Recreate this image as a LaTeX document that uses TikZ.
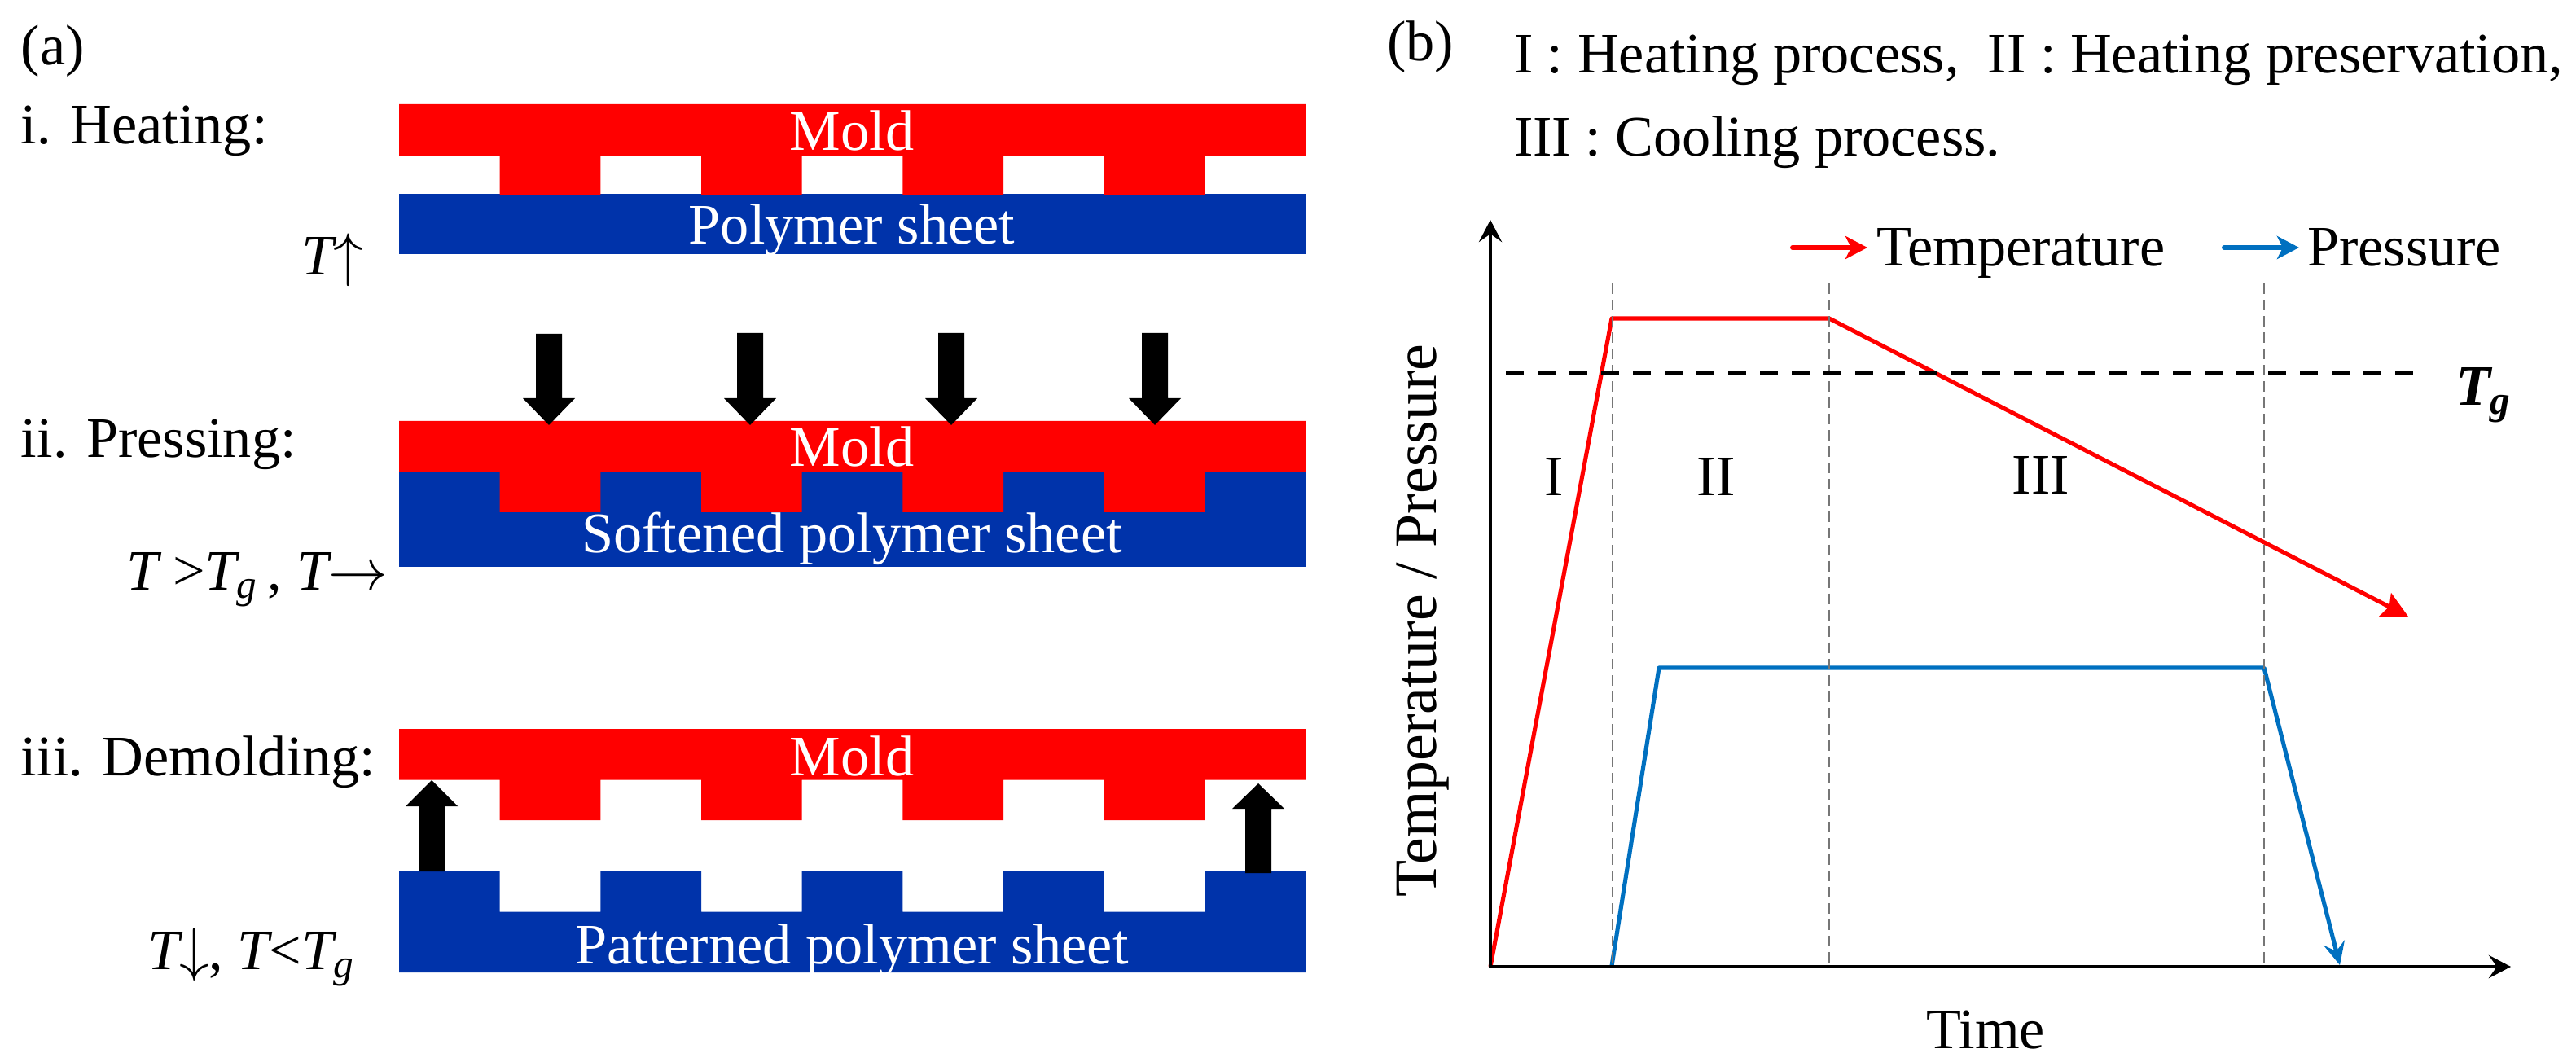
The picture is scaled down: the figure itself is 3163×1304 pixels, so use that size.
\documentclass[tikz,border=0pt]{standalone}
\usepackage{fontspec}
\setmainfont{Liberation Serif}
\usetikzlibrary{arrows.meta}
\definecolor{moldred}{RGB}{255,0,0}
\definecolor{polyblue}{RGB}{0,51,170}
\definecolor{presblue}{RGB}{0,112,192}
\definecolor{dashgray}{RGB}{118,118,118}
\newcommand{\blkarrow}[4]{%
  \fill[black] (#1-16,#2) -- (#1+16,#2) -- (#1+16,#3) -- (#1+32,#3) -- (#1,#4) -- (#1-32,#3) -- (#1-16,#3) -- cycle;}
\begin{document}
\begin{tikzpicture}[x=0.1mm,y=-0.1mm,
  lbl/.style={inner sep=0pt, outer sep=0pt, font=\fontsize{20pt}{24pt}\selectfont},
  wlbl/.style={lbl, text=white},
  tcurve/.style={draw=moldred, line width=1.45pt, line join=round},
  pcurve/.style={draw=presblue, line width=1.45pt, line join=round},
  vdash/.style={draw=dashgray, line width=0.7pt, dash pattern=on 3.7pt off 2pt},
  tgdash/.style={draw=black, line width=1.45pt, dash pattern=on 6.3pt off 4.8pt},
  axisline/.style={draw=black, line width=1.3pt, line join=miter},
  legarrow/.style={line width=1.7pt, line cap=round, -{Stealth[length=7.7pt, width=8pt, inset=2pt]}}
]
\useasboundingbox (0,0) rectangle (3163,1304);

% ---------------- panel (a) ----------------
\node[lbl, anchor=base west] (la) at (26,80) {(a)};
\node[lbl, anchor=base west] (li) at (26,177) {i. Heating:};
\node[lbl, anchor=base west] (lii) at (26,562) {ii. Pressing:};
\node[lbl, anchor=base west] (liii) at (26,952) {iii. Demolding:};

\node[lbl, anchor=base east] (ci) at (446,338) {{\itshape T}$\uparrow$};
\node[lbl, anchor=base east] (cii) at (476,724) {{\itshape T} >{\itshape T}\textsubscript{\itshape g}\,, {\itshape T}$\rightarrow$};
\node[lbl, anchor=base east] (ciii) at (436,1190) {{\itshape T}$\downarrow$, {\itshape T}<{\itshape T}\textsubscript{\itshape g}};

% i. heating
\fill[polyblue] (490,238) rectangle (1603,312);
\fill[moldred] (490,128) rectangle (1603,191.5)
  foreach \k in {0,...,3} { ({490+(2*\k+1)*123.67},191) rectangle ({490+(2*\k+2)*123.67},239) };
\node[wlbl, anchor=base] (m1) at (1046,185) {Mold};
\node[wlbl, anchor=base] (p1) at (1046,300) {Polymer sheet};

% ii. pressing
\fill[polyblue] (490,579) rectangle (1603,696);
\fill[moldred] (490,517) rectangle (1603,579.5)
  foreach \k in {0,...,3} { ({490+(2*\k+1)*123.67},579) rectangle ({490+(2*\k+2)*123.67},629) };
\node[wlbl, anchor=base] (m2) at (1046,573) {Mold};
\node[wlbl, anchor=base] (p2) at (1046,678) {Softened polymer sheet};
\blkarrow{674}{410}{489}{522}
\blkarrow{921}{409}{489}{522}
\blkarrow{1168}{409}{489}{522}
\blkarrow{1418}{409}{489}{522}

% iii. demolding
\fill[moldred] (490,895) rectangle (1603,957.5)
  foreach \k in {0,...,3} { ({490+(2*\k+1)*123.67},957) rectangle ({490+(2*\k+2)*123.67},1007) };
\fill[polyblue] (490,1119.5) rectangle (1603,1194)
  foreach \k in {0,...,4} { ({490+(2*\k)*123.67},1070) rectangle ({490+(2*\k+1)*123.67},1120) };
\node[wlbl, anchor=base] (m3) at (1046,952) {Mold};
\node[wlbl, anchor=base] (p3) at (1046,1183) {Patterned polymer sheet};
\blkarrow{530}{1070}{990}{958}
\blkarrow{1545}{1072}{993}{962}

% ---------------- panel (b) ----------------
\node[lbl, anchor=base west] (lb) at (1703,75) {(b)};
\node[lbl, anchor=base west] (t1) at (1859,90) {I : Heating process,~ II : Heating preservation,};
\node[lbl, anchor=base west] (t2) at (1859,192) {III : Cooling process.};

\coordinate (O) at (1830,1187);
\coordinate (Ytip) at (1830,270);
\coordinate (Xtip) at (3083,1187);
\coordinate (TA) at (1979,391);
\coordinate (TB) at (2246,391);
\coordinate (TC) at (2957,757);
\coordinate (PA) at (1979,1186);
\coordinate (PB) at (2037,820);
\coordinate (PC) at (2780,820);
\coordinate (PD) at (2873,1185);
\coordinate (V1t) at (1980,348); \coordinate (V1b) at (1980,1187);
\coordinate (V2t) at (2246,348); \coordinate (V2b) at (2246,1187);
\coordinate (V3t) at (2780,348); \coordinate (V3b) at (2780,1187);
\coordinate (G1) at (1849,458); \coordinate (G2) at (2974,458);

% curves
\draw[tcurve, -{Stealth[length=9pt, width=9pt, inset=1.5pt]}] (O) -- (TA) -- (TB) -- (TC);
\draw[pcurve, -{Stealth[length=8pt, width=7.5pt, inset=3pt]}] (PA) -- (PB) -- (PC) -- (PD);

% dashed lines
\draw[vdash] (V1t) -- (V1b);
\draw[vdash] (V2t) -- (V2b);
\draw[vdash] (V3t) -- (V3b);
\draw[tgdash] (G1) -- (G2);

% axes
\draw[axisline, {Stealth[length=7.7pt, width=8pt, inset=2.8pt]}-{Stealth[length=7.7pt, width=8pt, inset=2.8pt]}] (Ytip) -- (O) -- (Xtip);

% legend
\node[lbl, anchor=base west] (legT) at (2304,327) {Temperature};
\node[lbl, anchor=base west] (legP) at (2833,327) {Pressure};
\coordinate (LT1) at (2201,304); \coordinate (LT2) at (2293,304);
\coordinate (LP1) at (2731,304); \coordinate (LP2) at (2823,304);
\draw[legarrow, moldred] (LT1) -- (LT2);
\draw[legarrow, presblue] (LP1) -- (LP2);

% labels
\node[lbl, anchor=base west] (tg) at (3015,498) {{\bfseries\itshape T}\textsubscript{\bfseries\itshape g}};
\node[lbl, anchor=base] (r1) at (1908,609) {I};
\node[lbl, anchor=base] (r2) at (2107,609) {II};
\node[lbl, anchor=base] (r3) at (2506,607) {III};
\node[lbl, anchor=base] (xl) at (2438,1287) {Time};
\node[lbl, anchor=base, rotate=90, font=\fontsize{21pt}{24pt}\selectfont] (yl) at (1763,762) {Temperature / Pressure};
\end{tikzpicture}
\end{document}
